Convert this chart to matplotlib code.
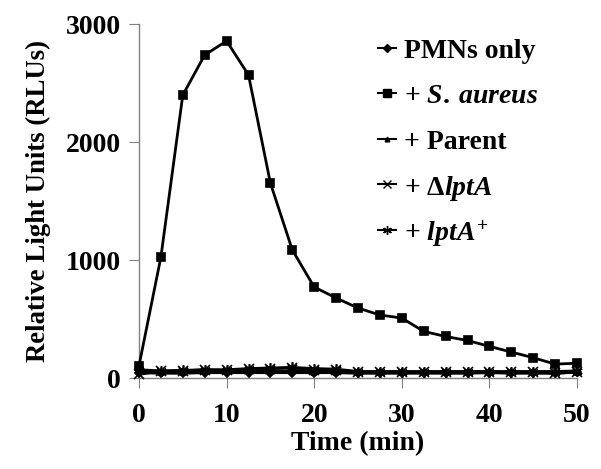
import matplotlib
matplotlib.use("Agg")
import matplotlib.pyplot as plt
from matplotlib.lines import Line2D

plt.rcParams['font.family'] = 'Liberation Serif'
plt.rcParams['font.weight'] = 'bold'
plt.rcParams['mathtext.fontset'] = 'custom'
plt.rcParams['mathtext.rm'] = 'Liberation Serif:bold'
plt.rcParams['mathtext.it'] = 'Liberation Serif:bold:italic'
plt.rcParams['mathtext.bf'] = 'Liberation Serif:bold'

time = [0, 2.5, 5, 7.5, 10, 12.5, 15, 17.5, 20, 22.5, 25, 27.5, 30, 32.5, 35,
        37.5, 40, 42.5, 45, 47.5, 50]
pmns_only = [45, 40, 40, 45, 45, 45, 45, 45, 45, 45, 40, 40, 40, 40, 40, 40,
             45, 40, 40, 40, 50]
s_aureus = [104, 1025, 2398, 2737, 2856, 2568, 1652, 1085, 771, 678, 593, 534,
            508, 395, 352, 318, 268, 220, 172, 118, 125]
parent = [60, 55, 55, 60, 60, 60, 60, 60, 55, 55, 50, 50, 50, 50, 50, 50, 50,
          50, 50, 50, 55]
delta_lpta = [30, 60, 60, 70, 65, 75, 80, 85, 70, 70, 50, 50, 50, 50, 50, 50,
              50, 50, 50, 40, 50]
lpta_plus = [70, 60, 65, 70, 70, 80, 85, 90, 80, 75, 55, 55, 55, 55, 55, 55,
             55, 55, 55, 55, 60]

labels = ["PMNs only", r"+ $\it{S.\:aureus}$", "+ Parent",
          r"+ Δ$\it{lptA}$", r"+ $\it{lptA}^{+}$"]
series = [pmns_only, s_aureus, parent, delta_lpta, lpta_plus]
markers = ['D', 's', '^', 'x', (6, 2, 0)]
msizes = [4.5, 6.2, 4, 6.5, 7.5]

W, H = 601, 469
fig = plt.figure(figsize=(W / 100, H / 100), dpi=100)
ax = fig.add_axes([139 / W, 1 - 378 / H, (577 - 139) / W, (378 - 24) / H])

for vals, m, ms, lab in zip(series, markers, msizes, labels):
    ax.plot(time, vals, color='black', lw=2, marker=m, markersize=ms,
            markeredgewidth=1.2, label=lab, clip_on=False, zorder=3)

ax.set_xlim(0, 50)
ax.set_ylim(0, 3000)
ax.set_xticks([0, 10, 20, 30, 40, 50])
ax.set_yticks([0, 1000, 2000, 3000])
for s in ['top', 'right']:
    ax.spines[s].set_visible(False)
for s in ['left', 'bottom']:
    ax.spines[s].set_color('#808080')
    ax.spines[s].set_linewidth(1)
ax.tick_params(axis='both', direction='out', length=7, color='#808080',
               labelsize=20)
ax.tick_params(axis='x', pad=11)
ax.tick_params(axis='y', pad=6)
for t in ax.get_xticklabels() + ax.get_yticklabels():
    t.set_fontweight('bold')

ax.set_xlabel("Time (min)", fontsize=20, fontweight='bold', labelpad=2)
ax.set_ylabel("Relative Light Units (RLUs)", fontsize=19.3, fontweight='bold',
              labelpad=11)

# legend drawn manually
for i, (m, ms, lab) in enumerate(zip(markers, msizes, labels)):
    yp = 48 + 45.5 * i
    yf = 1 - yp / H
    fig.add_artist(Line2D([378 / W, 396 / W], [yf, yf], color='black', lw=1.5,
                          transform=fig.transFigure))
    fig.add_artist(Line2D([387 / W], [yf], color='black', marker=m,
                          markersize=ms * 0.85, markeredgewidth=1,
                          transform=fig.transFigure))
    fig.text(404 / W, yf, lab, fontsize=20, fontweight='bold',
             va='center_baseline', ha='left')

fig.savefig("out.png", dpi=100)
